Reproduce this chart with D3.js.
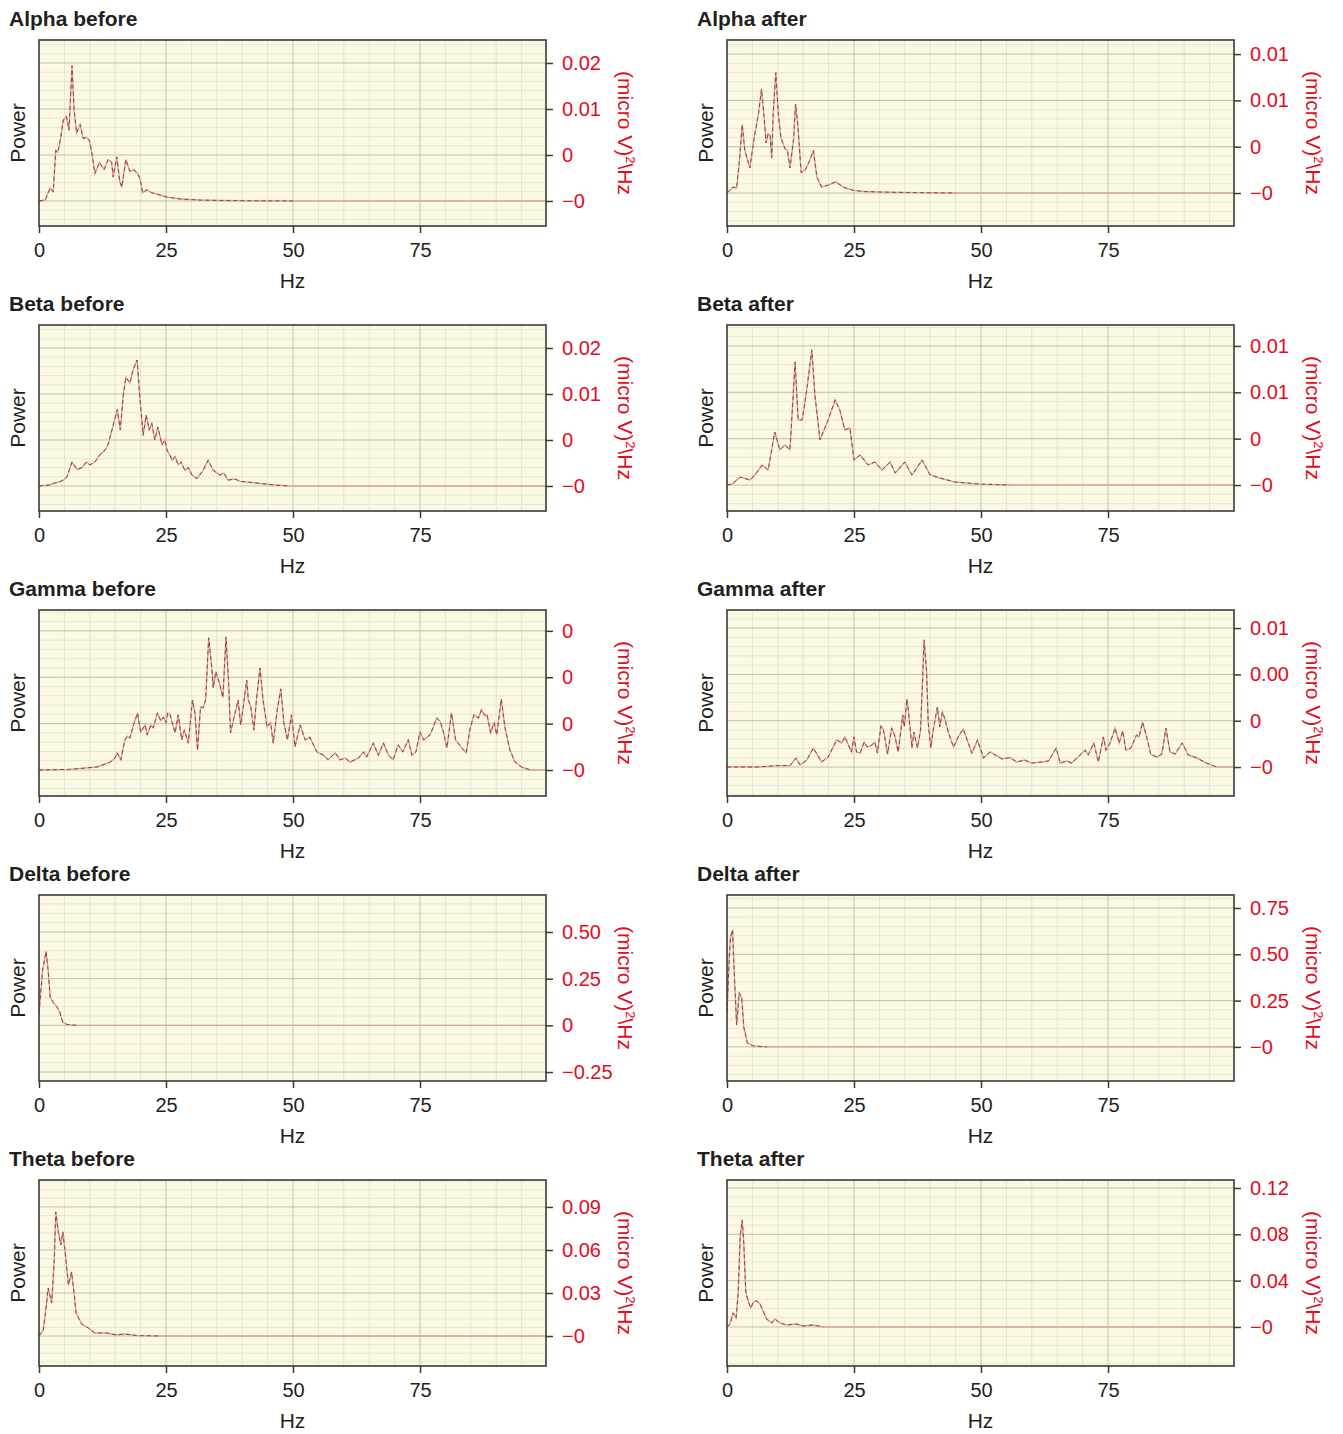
<!DOCTYPE html>
<html>
<head>
<meta charset="utf-8" />
<title>EEG power spectra before / after</title>
<script src="https://d3js.org/d3.v7.min.js"></script>
<style>
  body { margin: 0; background: #fff; }
  text { font-family: "Liberation Sans", Arial, sans-serif; }
</style>
</head>
<body>
<div id="chart"></div>
<script>

// power values are in 1e-3 (micro V)^2/Hz, frequency in Hz
const alphaBefore = [[0,0],[1.2,0.1],[2.2,1.4],[2.8,1.0],[3.3,5.5],[3.7,5.3],[4.1,6.3],[4.8,8.8],[5.4,9.2],[5.9,7.7],[6.5,14.7],[6.9,9.9],[7.4,7.4],[8.1,8.3],[8.7,6.8],[9.3,6.9],[9.9,6.6],[10.4,5.2],[11.0,3.0],[11.9,4.2],[12.8,3.4],[13.6,4.5],[14.3,4.2],[14.6,2.6],[15.3,4.8],[15.9,2.1],[16.3,1.5],[17.1,4.5],[17.9,3.2],[18.6,3.4],[19.4,3.0],[19.9,2.4],[20.4,0.9],[21.2,1.2],[22.2,0.9],[23.8,0.65],[25.1,0.43],[27.8,0.22],[31.7,0.1],[36,0.05],[42,0.02],[50,0],[99.8,0]];
const alphaAfter = [[0,0],[1.2,0.32],[1.9,0.27],[2.4,1.6],[3.0,3.7],[3.5,2.3],[4.5,1.35],[5.3,2.9],[6.2,4.3],[6.8,5.6],[7.3,4.1],[7.7,2.7],[8.1,3.2],[8.5,3.1],[8.8,1.9],[9.1,4.3],[9.6,6.5],[10.1,4.3],[10.6,3.0],[11.4,2.4],[11.9,2.3],[12.4,1.35],[13.1,2.9],[13.5,4.8],[13.9,3.8],[14.6,1.1],[15.4,1.25],[16.2,1.7],[17.0,2.3],[17.7,0.86],[18.6,0.32],[19.9,0.43],[21.4,0.6],[22.9,0.32],[24.9,0.14],[26.9,0.08],[30.8,0.05],[38,0.02],[45,0],[99.8,0]];
const betaBefore = [[0,0],[2,0.1],[3,0.3],[4,0.45],[5,0.7],[5.5,1.0],[6.5,2.6],[7.5,1.8],[8.5,2.0],[9.3,2.6],[10,2.3],[11,2.6],[12,3.4],[13,3.9],[13.6,4.5],[14.6,6.6],[15.4,8.3],[16,6.1],[16.6,9.9],[17.1,11.8],[17.9,11.2],[18.5,12.6],[19.3,13.7],[19.9,9.3],[20.5,5.5],[21.1,7.7],[21.7,6.1],[22.2,6.8],[22.8,5.0],[23.4,6.4],[24.2,4.5],[24.8,5.0],[25.2,3.9],[25.8,3.3],[26.2,2.8],[26.8,3.2],[27.4,2.3],[28.0,2.6],[28.7,1.7],[29.4,2.0],[30.1,1.2],[31.1,0.8],[32.3,1.7],[33.3,2.8],[34.3,1.7],[35.6,1.2],[36.4,1.4],[37.2,0.65],[38.6,0.75],[39.6,0.5],[40.6,0.45],[43.1,0.3],[46.5,0.1],[49.4,0],[99.8,0]];
const betaAfter = [[0,0],[1,0.05],[2.6,0.43],[4.5,0.27],[5.5,0.54],[6.9,1.08],[8.1,0.81],[9.4,2.86],[10.4,1.89],[11.4,2.16],[12.4,1.89],[13.4,6.64],[14.0,3.51],[14.8,3.51],[15.7,5.13],[16.7,7.29],[17.3,4.86],[18.3,2.43],[19.9,3.51],[21.3,4.59],[22.2,4.05],[23.2,2.97],[24.2,3.08],[25.0,1.35],[26.2,1.62],[27.8,1.08],[29.1,1.24],[30.5,0.81],[32.1,1.24],[33.1,0.65],[35.0,1.24],[36.4,0.54],[38.4,1.35],[40,0.54],[41.9,0.38],[44.9,0.16],[49.8,0.05],[55.7,0],[99.8,0]];
const gammaBefore = [[0,0],[6.1,0.015],[11.4,0.065],[14,0.17],[15,0.26],[15.4,0.37],[16.1,0.22],[16.9,0.65],[17.4,0.73],[17.9,0.69],[18.6,0.97],[19.4,1.23],[20.0,0.82],[20.9,0.97],[21.3,0.76],[22.0,0.97],[22.5,0.91],[23.3,1.23],[24.0,1.06],[24.5,1.14],[25.0,1.02],[25.3,1.23],[25.8,1.19],[26.1,1.06],[26.8,0.80],[27.4,1.19],[28.1,0.65],[28.6,0.86],[29.4,0.58],[30.2,1.51],[30.7,1.23],[31.2,0.43],[31.8,1.36],[32.3,1.34],[32.8,1.51],[33.4,2.85],[34.0,2.22],[34.3,1.77],[34.8,2.12],[35.5,1.88],[36.2,1.56],[36.8,2.87],[37.3,1.94],[37.7,0.80],[38.4,1.14],[39.2,1.51],[39.7,0.97],[40.2,1.36],[40.9,1.94],[41.2,1.51],[41.7,1.36],[42.3,0.86],[42.8,1.51],[43.5,2.20],[44.1,1.51],[44.9,0.93],[45.6,1.02],[46.1,0.58],[46.9,1.30],[47.6,1.75],[48.2,1.02],[48.9,0.65],[49.7,1.19],[50.4,0.50],[51.4,0.97],[52.4,0.65],[53.3,0.71],[54.7,0.39],[56,0.32],[56.9,0.22],[58.3,0.37],[59.3,0.22],[60.3,0.26],[61.2,0.17],[62.9,0.26],[63.9,0.39],[64.5,0.28],[65.8,0.58],[66.8,0.32],[67.8,0.58],[68.8,0.32],[69.7,0.22],[70.7,0.54],[71.6,0.39],[72.7,0.65],[73.4,0.32],[74.2,0.39],[75.0,0.82],[75.7,0.65],[77.0,0.76],[78.3,1.12],[79.0,1.04],[79.6,0.82],[80.3,0.48],[81.2,1.23],[82.0,0.65],[83.2,0.48],[84.1,0.37],[84.8,0.86],[85.6,1.19],[86.5,1.12],[87.1,1.30],[87.8,1.17],[88.2,1.19],[88.9,0.80],[89.6,1.02],[90.1,0.76],[91.0,1.53],[91.7,0.93],[92.7,0.43],[93.7,0.17],[95.0,0.065],[96.7,0],[99.8,0]];
const gammaAfter = [[0,0],[5.8,0],[9.8,0.06],[12.4,0.06],[13.6,0.39],[14.4,0.09],[15.7,0.30],[17.0,0.82],[18.6,0.22],[19.9,0.43],[21.6,1.17],[22.6,1.04],[23.2,1.30],[23.9,0.95],[24.5,0.65],[25.0,1.30],[25.5,0.65],[26.2,0.60],[27.0,1.08],[27.6,0.86],[28.5,0.95],[29.1,1.08],[29.6,0.60],[30.3,1.77],[30.8,1.60],[31.6,0.56],[32.4,1.68],[33.0,1.38],[33.7,0.65],[34.6,2.25],[34.9,1.73],[35.4,2.94],[35.7,2.46],[36.4,0.82],[36.8,1.51],[37.5,0.82],[38.1,1.60],[38.8,5.49],[39.3,4.10],[39.6,1.94],[40.1,0.82],[40.6,1.60],[41.4,2.59],[41.9,1.73],[42.4,2.38],[42.9,2.07],[43.6,1.47],[44.6,0.86],[45.5,1.30],[46.5,1.64],[48.2,0.60],[49.3,1.17],[50.5,0.39],[51.8,0.65],[54.1,0.35],[55.7,0.41],[57.0,0.22],[58.6,0.30],[60.0,0.17],[62.0,0.22],[63.3,0.26],[64.8,0.82],[65.6,0.17],[66.9,0.26],[67.8,0.17],[69.1,0.43],[70.5,0.73],[71.1,0.52],[72.2,1.04],[73.1,0.22],[74.1,1.30],[74.6,0.73],[75.4,1.04],[76.4,1.68],[77.2,1.04],[77.9,1.56],[78.5,0.73],[79.5,0.82],[80.6,1.38],[81.1,1.30],[81.8,1.94],[82.6,1.30],[83.4,0.56],[84.6,0.43],[85.6,0.56],[86.4,1.68],[87.2,0.65],[88.2,0.56],[89.6,1.04],[90.8,0.52],[92.5,0.39],[94.4,0.17],[96.4,0],[99.8,0]];
const deltaBefore = [[0,64],[0.7,294],[1.4,396],[1.8,294],[2.2,150],[2.8,123],[3.6,96],[4.1,70],[4.7,16],[5.5,5],[7.4,0],[99.8,0]];
const deltaAfter = [[0,184],[0.45,486],[0.7,594],[1.1,632],[1.4,416],[1.9,119],[2.4,292],[2.9,265],[3.3,108],[4.0,22],[5.2,5],[7.8,0],[99.8,0]];
const thetaBefore = [[0,0],[0.85,4.2],[1.4,20.2],[1.8,33.5],[2.5,23],[3.0,53],[3.3,86.6],[3.8,72.6],[4.3,63.5],[4.7,72.6],[5.1,60],[5.8,35.6],[6.4,44.7],[6.9,30],[7.3,16],[8.4,8.4],[9.7,5.6],[11.0,2.1],[13.3,2.1],[15.3,0.7],[16.9,1.4],[19.2,0.35],[23.8,0],[99.8,0]];
const thetaAfter = [[0,0],[0.6,2.6],[1.2,12.1],[1.8,7.8],[2.2,29.4],[2.6,77.8],[3.0,92.4],[3.3,72.6],[3.7,30.2],[4.2,21.6],[4.7,16.4],[5.2,21.6],[5.8,22.5],[6.5,19.9],[7.0,14.7],[7.8,6.9],[8.8,3.5],[9.4,6.9],[10.4,3.5],[11.7,1.7],[13.6,2.6],[15.0,0.9],[16.9,1.7],[18.9,0],[99.8,0]];

const titles = ["Alpha before", "Alpha after", "Beta before", "Beta after", "Gamma before",
                "Gamma after", "Delta before", "Delta after", "Theta before", "Theta after"];

// right axis ticks (same units as the data) and the labels printed next to them
const yTicks = [[0,5,10,15],[0,2.5,5,7.5],[0,5,10,15],[0,2.5,5,7.5],[0,1,2,3],
                [0,2,4,6],[-250,0,250,500],[0,250,500,750],[0,30,60,90],[0,40,80,120]];
const yLabels = [["\u22120","0","0.01","0.02"],["\u22120","0","0.01","0.01"],
                 ["\u22120","0","0.01","0.02"],["\u22120","0","0.01","0.01"],
                 ["\u22120","0","0","0"],["\u22120","0","0.00","0.01"],
                 ["\u22120.25","0","0.25","0.50"],["\u22120","0.25","0.50","0.75"],
                 ["\u22120","0.03","0.06","0.09"],["\u22120","0.04","0.08","0.12"]];
const yDomains = [[-2.72,17.5],[-1.78,8.26],[-2.72,17.5],[-1.40,8.63],[-0.56,3.45],
                  [-1.25,6.78],[-298,698],[-184,820],[-20.9,108.8],[-33.7,126.9]];

const xDomain = [0, 99.8];
const xTicks = [0, 25, 50, 75];

const allData = [alphaBefore, alphaAfter, betaBefore, betaAfter, gammaBefore,
                 gammaAfter, deltaBefore, deltaAfter, thetaBefore, thetaAfter];

// layout
var colLeft = [39, 727],
    rowTop = [40, 325, 610, 895, 1180],
    plotW = 507,
    plotH = 186;

var RED = "#e30b1c", INK = "#231f20", FRAME = "#3d3935";

var svg = d3.select("#chart").append("svg")
  .attr("width", 1343)
  .attr("height", 1434);

var defs = svg.append("defs");

titles.forEach(function(title, i) {
  var left = colLeft[i % 2],
      top = rowTop[Math.floor(i / 2)],
      data = allData[i],
      ticks = yTicks[i];

  var x = d3.scaleLinear().domain(xDomain).range([left, left + plotW]);
  var y = d3.scaleLinear().domain(yDomains[i]).range([top + plotH, top]);

  var g = svg.append("g");

  // background
  g.append("rect")
    .attr("x", left).attr("y", top)
    .attr("width", plotW).attr("height", plotH)
    .attr("fill", "#fbf9e3");

  // minor grid
  var xMinor = d3.range(5, 100, 5).filter(function(d) { return d % 25 !== 0; });
  var step = (ticks[1] - ticks[0]) / 5;
  var yMinor = d3.range(Math.ceil(yDomains[i][0] / step), Math.floor(yDomains[i][1] / step) + 1)
    .map(function(k) { return k * step; })
    .filter(function(d) { return ticks.every(function(t) { return Math.abs(t - d) > step / 10; }); });

  g.selectAll(".xminor").data(xMinor).enter().append("line")
    .attr("x1", function(d) { return x(d); }).attr("x2", function(d) { return x(d); })
    .attr("y1", top).attr("y2", top + plotH)
    .attr("stroke", "#e1e5d2").attr("stroke-width", 1);
  g.selectAll(".yminor").data(yMinor).enter().append("line")
    .attr("x1", left).attr("x2", left + plotW)
    .attr("y1", function(d) { return y(d); }).attr("y2", function(d) { return y(d); })
    .attr("stroke", "#e7e6d0").attr("stroke-width", 1);

  // major grid
  g.selectAll(".xmajor").data(xTicks.slice(1)).enter().append("line")
    .attr("x1", function(d) { return x(d); }).attr("x2", function(d) { return x(d); })
    .attr("y1", top).attr("y2", top + plotH)
    .attr("stroke", "#c3c5b4").attr("stroke-width", 1);
  g.selectAll(".ymajor").data(ticks).enter().append("line")
    .attr("x1", left).attr("x2", left + plotW)
    .attr("y1", function(d) { return y(d); }).attr("y2", function(d) { return y(d); })
    .attr("stroke", "#bfc0ab").attr("stroke-width", 1);

  // the spectrum: light red trace with darker dashes over it
  defs.append("clipPath").attr("id", "clip" + i)
    .append("rect").attr("x", left).attr("y", top).attr("width", plotW).attr("height", plotH);

  var line = d3.line()
    .x(function(d) { return x(d[0]); })
    .y(function(d) { return y(d[1]); });

  var lastBusy = 0;
  data.forEach(function(d, j) { if (d[1] > 0) lastBusy = j; });

  g.append("path")
    .datum(data)
    .attr("clip-path", "url(#clip" + i + ")")
    .attr("d", line)
    .attr("fill", "none")
    .attr("stroke", "#e0a29d")
    .attr("stroke-width", 1.4);

  g.append("path")
    .datum(data.slice(0, lastBusy + 2))
    .attr("clip-path", "url(#clip" + i + ")")
    .attr("d", line)
    .attr("fill", "none")
    .attr("stroke", "#904440")
    .attr("stroke-width", 1)
    .attr("stroke-dasharray", "4,3");

  // frame
  g.append("rect")
    .attr("x", left).attr("y", top)
    .attr("width", plotW).attr("height", plotH)
    .attr("fill", "none")
    .attr("stroke", FRAME).attr("stroke-width", 1.6);

  // right axis
  var ra = g.append("g")
    .attr("transform", "translate(" + (left + plotW) + ",0)")
    .call(d3.axisRight(y).tickValues(ticks).tickSize(7).tickPadding(9)
      .tickFormat(function(d, j) { return yLabels[i][j]; }));
  ra.select(".domain").remove();
  ra.selectAll(".tick line").attr("stroke", FRAME).attr("stroke-width", 1.5);
  ra.selectAll(".tick text").attr("fill", RED).style("font-size", "20px")
    .style("font-family", "'Liberation Sans', Arial, sans-serif");

  // bottom axis
  var ba = g.append("g")
    .attr("transform", "translate(0," + (top + plotH) + ")")
    .call(d3.axisBottom(x).tickValues(xTicks).tickSize(7).tickPadding(10));
  ba.select(".domain").remove();
  ba.selectAll(".tick line").attr("stroke", FRAME).attr("stroke-width", 1.5);
  ba.selectAll(".tick text").attr("fill", INK).style("font-size", "20px")
    .style("font-family", "'Liberation Sans', Arial, sans-serif");

  // titles and axis names
  g.append("text")
    .attr("x", left - 30).attr("y", top - 14)
    .attr("fill", INK)
    .style("font-size", "21px").style("font-weight", "bold")
    .text(title);

  g.append("text")
    .attr("x", left + plotW / 2).attr("y", top + plotH + 62)
    .attr("text-anchor", "middle")
    .attr("fill", INK)
    .style("font-size", "21px")
    .text("Hz");

  g.append("text")
    .attr("transform", "translate(" + (left - 14) + "," + (top + plotH / 2) + ") rotate(-90)")
    .attr("text-anchor", "middle")
    .attr("fill", INK)
    .style("font-size", "21px")
    .text("Power");

  var unit = g.append("text")
    .attr("transform", "translate(" + (left + plotW + 72) + "," + (top + plotH / 2) + ") rotate(90)")
    .attr("text-anchor", "middle")
    .attr("fill", RED)
    .style("font-size", "21px");
  unit.append("tspan").text("(micro V)");
  unit.append("tspan").attr("dy", -8).style("font-size", "13px").text("2");
  unit.append("tspan").attr("dy", 8).text("\\Hz");
});

</script>
</body>
</html>
